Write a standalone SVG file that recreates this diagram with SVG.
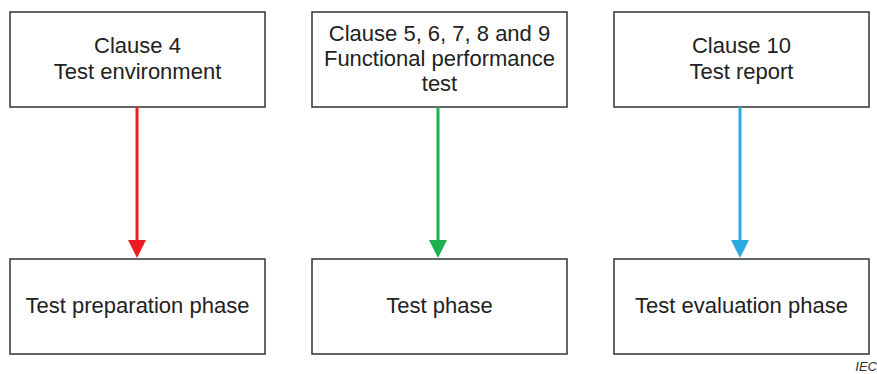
<svg xmlns="http://www.w3.org/2000/svg" width="877" height="374" viewBox="0 0 877 374">
<style>
.box{fill:#fff;stroke:#333;stroke-width:1.5}
.t{font-family:"Liberation Sans",Arial,sans-serif;font-size:22px;fill:#222;text-anchor:middle}
.c{stroke-width:3;fill:none}
</style>
<rect width="877" height="374" fill="#fff"/>
<g id="n1"><rect class="box" x="10" y="12" width="255" height="95"/><text class="t" x="137.5" y="53">Clause 4</text><text class="t" x="137.5" y="79">Test environment</text></g>
<g id="n2"><rect class="box" x="312" y="12" width="255" height="95"/><text class="t" x="439.5" y="41">Clause 5, 6, 7, 8 and 9</text><text class="t" x="439.5" y="66">Functional performance</text><text class="t" x="439.5" y="91">test</text></g>
<g id="n3"><rect class="box" x="614" y="12" width="255" height="95"/><text class="t" x="741.5" y="53">Clause 10</text><text class="t" x="741.5" y="79">Test report</text></g>
<g id="n4"><rect class="box" x="10" y="259" width="255" height="95"/><text class="t" x="137.5" y="313">Test preparation phase</text></g>
<g id="n5"><rect class="box" x="312" y="259" width="255" height="95"/><text class="t" x="439.5" y="313">Test phase</text></g>
<g id="n6"><rect class="box" x="614" y="259" width="255" height="95"/><text class="t" x="741.5" y="313">Test evaluation phase</text></g>
<g id="connectors">
<line class="c" stroke="#ED1C24" x1="137" y1="107" x2="137" y2="242"/><polygon fill="#ED1C24" points="128,240 146,240 137,258"/>
<line class="c" stroke="#1DB050" x1="438" y1="107" x2="438" y2="242"/><polygon fill="#1DB050" points="429,240 447,240 438,258"/>
<line class="c" stroke="#29ABE2" x1="740" y1="107" x2="740" y2="242"/><polygon fill="#29ABE2" points="731,240 749,240 740,258"/>
</g>
<text x="877" y="371" font-family="Liberation Sans,Arial,sans-serif" font-size="13" font-style="italic" fill="#333" text-anchor="end">IEC</text>
</svg>
